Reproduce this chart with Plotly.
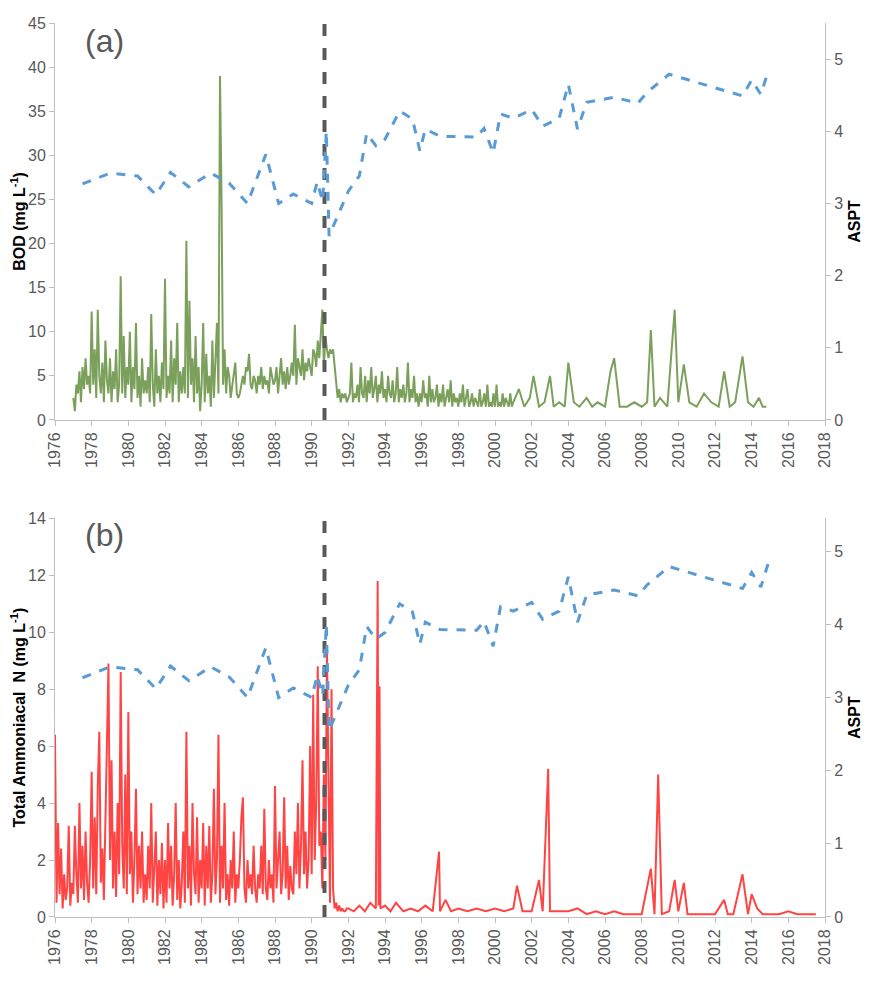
import numpy as np
import plotly.graph_objects as go

# ASPT (biotic index), same series in both panels
aspt_year = [1977.5, 1979.0, 1980.5, 1981.5, 1982.3, 1983.3, 1984.5, 1985.5, 1986.5, 1987.5,
             1988.2, 1989.0, 1990.0, 1990.3, 1990.6, 1990.8, 1990.95, 1992.0, 1992.6, 1993.0,
             1993.5, 1994.0, 1994.8, 1995.5, 1995.9, 1996.2, 1997.0, 1998.0, 1999.0, 1999.4,
             1999.9, 2000.3, 2001.0, 2002.0, 2002.6, 2003.5, 2004.0, 2004.5, 2005.0, 2006.5,
             2007.8, 2008.3, 2009.5, 2013.5, 2014.0, 2014.5, 2014.9]
aspt_val = [3.27, 3.42, 3.38, 3.12, 3.43, 3.23, 3.42, 3.28, 3.00, 3.68,
            3.00, 3.13, 3.00, 3.30, 3.03, 4.00, 2.55, 3.17, 3.38, 3.97,
            3.80, 3.89, 4.28, 4.17, 3.73, 4.03, 3.93, 3.92, 3.92, 4.04,
            3.70, 4.24, 4.18, 4.30, 4.07, 4.18, 4.65, 4.03, 4.40, 4.47,
            4.39, 4.54, 4.79, 4.49, 4.71, 4.51, 4.83]

# BOD, monthly 1977-2000
bod_monthly = [
    2.5, 1.0, 4.0, 3.0, 5.5, 2.0, 6.0, 3.5, 7.0, 4.0, 5.0, 3.0,
    12.3, 4.0, 8.0, 2.5, 12.5, 5.0, 3.0, 6.5, 2.0, 9.0, 4.5, 3.0,
    7.0, 2.0, 5.5, 3.5, 8.0, 2.0, 4.0, 16.3, 3.0, 9.5, 2.5, 6.0,
    4.0, 10.0, 2.0, 6.0, 3.5, 11.0, 2.5, 5.0, 1.5, 7.0, 3.0, 4.5,
    3.0, 6.0, 2.0, 12.0, 4.0, 1.5, 8.0, 3.0, 5.0, 2.0, 6.5, 3.5,
    16.0, 2.5, 5.0, 3.0, 9.0, 2.0, 7.0, 4.0, 11.0, 2.0, 5.5, 3.0,
    6.0, 3.0, 20.3, 2.5, 13.5, 4.0, 7.0, 2.0, 9.5, 3.0, 6.0, 1.0,
    4.0, 11.0, 2.0, 7.5, 3.0, 5.0, 1.5, 9.0, 2.5, 6.0, 11.0, 3.0,
    39.0, 25.0, 4.0, 8.0, 3.0, 6.0, 5.0, 2.5, 4.0, 5.5, 6.5, 3.0,
    2.5, 3.0, 4.0, 5.0, 4.0, 6.0, 5.5, 7.5, 4.0, 3.5, 5.0, 4.5,
    3.0, 5.0, 4.0, 6.0, 3.5, 5.0, 4.0, 4.5, 3.0, 6.0, 5.0, 4.0,
    4.5, 6.0, 3.0, 5.0, 7.0, 4.0, 5.5, 3.5, 6.0, 4.0, 5.0, 6.5,
    5.0, 10.8, 4.0, 7.0, 6.0, 5.0, 8.0, 4.5, 6.5, 5.5, 7.0, 6.0,
    5.0, 8.0, 7.5, 6.0, 9.0, 7.0, 10.0, 12.5, 6.0, 9.5, 8.0, 7.0,
    8.0, 7.5, 8.0, 6.0, 4.0, 2.5, 3.5, 2.0, 3.0, 2.5, 3.0, 2.0,
    2.5, 3.0, 6.5, 2.0, 3.0, 2.5, 4.0, 2.0, 6.0, 3.0, 2.5, 5.0,
    2.0, 4.5, 3.0, 6.0, 2.5, 3.5, 5.0, 2.0, 4.0, 3.0, 5.5, 2.5,
    3.5, 2.0, 5.0, 3.0, 2.5, 4.5, 2.0, 3.0, 6.0, 2.0, 3.5, 2.5,
    4.0, 2.0, 3.0, 6.5, 2.0, 3.5, 2.5, 5.0, 2.0, 3.0, 1.5, 3.0,
    2.0, 4.5, 2.5, 3.0, 1.5, 5.0, 2.0, 3.5, 2.0, 2.5, 4.0, 1.5,
    3.0, 2.0, 4.0, 1.5, 2.5, 3.5, 2.0, 4.5, 1.5, 3.0, 2.0, 2.5,
    1.5, 3.0, 2.0, 4.0, 1.5, 2.5, 3.5, 1.5, 2.0, 3.0, 1.5, 2.5,
    2.0, 1.5, 3.5, 1.5, 2.0, 3.0, 1.5, 4.0, 1.5, 2.0, 1.5, 3.0,
    1.5, 4.0, 1.5, 2.0, 1.5, 3.0, 1.5, 2.5, 2.0, 1.5, 3.0, 1.5,
]
bod_late_year = [2001.0, 2001.3, 2001.6, 2001.9, 2002.1, 2002.4, 2002.7, 2003.0, 2003.2, 2003.5,
                 2003.8, 2004.0, 2004.3, 2004.6, 2005.0, 2005.3, 2005.6, 2006.0, 2006.3, 2006.5,
                 2006.8, 2007.2, 2007.6, 2008.0, 2008.3, 2008.5, 2008.7, 2009.0, 2009.4, 2009.8,
                 2010.0, 2010.3, 2010.6, 2011.0, 2011.4, 2011.8, 2012.2, 2012.5, 2012.8, 2013.1,
                 2013.5, 2013.8, 2014.1, 2014.4, 2014.6, 2014.8]
bod_late = [2.0, 3.5, 1.5, 2.5, 5.0, 1.5, 2.0, 5.0, 1.5, 2.0,
            1.5, 6.5, 2.0, 1.5, 2.5, 1.5, 2.0, 1.5, 5.5, 7.0,
            1.5, 1.5, 2.0, 1.5, 2.0, 10.2, 1.5, 2.5, 1.5, 12.5,
            2.0, 6.3, 2.0, 1.5, 3.0, 2.0, 1.5, 5.5, 1.5, 2.0,
            7.2, 2.0, 1.5, 2.5, 1.5, 1.5]

# Total ammoniacal N, monthly 1976-1991
nh_monthly = [
    6.4, 0.5, 3.3, 0.8, 2.4, 0.3, 1.5, 0.6, 1.0, 3.2, 0.4, 1.2,
    0.8, 3.2, 1.5, 0.5, 4.0, 1.0, 2.5, 0.6, 3.0, 1.2, 0.5, 2.0,
    5.1, 1.0, 3.5, 0.8, 4.6, 6.5, 1.2, 2.4, 0.6, 3.8, 7.0, 8.9,
    2.0, 5.5, 1.0, 3.0, 0.7, 4.0, 1.5, 8.6, 2.5, 1.0, 5.0, 0.8,
    7.2, 1.5, 3.0, 0.5, 2.0, 4.5, 0.8, 2.5, 1.0, 3.0, 0.5, 1.5,
    0.6, 2.5, 1.0, 4.0, 0.5, 1.8, 3.0, 0.4, 2.0, 0.8, 2.6, 0.3,
    2.0, 0.5, 3.3, 1.0, 2.5, 0.4, 1.5, 4.0, 0.6, 2.0, 0.3, 1.2,
    3.0, 0.5, 6.5, 1.0, 2.5, 0.4, 4.0, 1.5, 0.8, 3.5, 0.5, 2.0,
    1.0, 3.3, 0.4, 2.5, 1.0, 3.2, 0.5, 1.5, 4.5, 0.8, 2.0, 6.4,
    0.5, 2.5, 1.0, 4.0, 0.6, 1.5, 0.4, 2.0, 1.0, 3.0, 0.5, 1.5,
    1.0, 2.0, 3.5, 4.2, 1.0, 0.5, 2.0, 1.0, 1.5, 0.8, 2.5, 1.0,
    0.5, 1.5, 1.0, 2.5, 0.8, 3.8, 1.0, 0.6, 2.0, 1.0, 1.5, 0.5,
    4.6, 1.0, 2.0, 3.0, 0.8, 1.5, 4.2, 1.0, 2.5, 0.6, 1.8, 1.0,
    0.8, 3.0, 1.5, 4.0, 1.0, 2.5, 5.5, 1.5, 3.0, 1.0, 2.0, 6.0,
    1.5, 7.8, 2.0, 4.0, 8.8, 2.5, 3.0, 1.0, 5.0, 2.0, 9.4, 4.0,
    0.5, 8.0, 1.0, 0.3, 0.5, 0.2, 0.4, 0.2, 0.3, 0.2, 0.2, 0.3,
]
nh_late_year = [1992.0, 1992.3, 1992.6, 1992.9, 1993.2, 1993.5, 1993.6, 1993.65, 1993.7, 1993.75,
                1994.0, 1994.3, 1994.6, 1995.0, 1995.4, 1995.8, 1996.2, 1996.6, 1996.95, 1997.0,
                1997.3, 1997.6, 1998.0, 1998.5, 1999.0, 1999.5, 2000.0, 2000.5, 2001.0, 2001.2,
                2001.5, 2002.0, 2002.4, 2002.6, 2002.9, 2003.0, 2003.5, 2004.0, 2004.5, 2005.0,
                2005.5, 2006.0, 2006.5, 2007.0, 2007.5, 2008.0, 2008.5, 2008.7, 2008.9, 2009.1,
                2009.5, 2009.8, 2010.0, 2010.3, 2010.5, 2011.0, 2011.5, 2012.0, 2012.5, 2012.7,
                2013.0, 2013.5, 2013.8, 2014.0, 2014.3, 2014.6, 2015.0, 2015.5, 2016.0, 2016.5,
                2017.0, 2017.5]
nh_late = [0.3, 0.2, 0.4, 0.2, 0.5, 0.3, 11.8, 0.4, 8.1, 0.3,
           0.4, 0.2, 0.5, 0.2, 0.3, 0.2, 0.4, 0.2, 2.3, 0.2,
           0.6, 0.2, 0.3, 0.2, 0.3, 0.2, 0.3, 0.2, 0.3, 1.1,
           0.2, 0.2, 1.3, 0.2, 5.2, 0.2, 0.2, 0.2, 0.3, 0.1,
           0.2, 0.1, 0.2, 0.1, 0.1, 0.1, 1.7, 0.1, 5.0, 0.1,
           0.2, 1.3, 0.2, 1.2, 0.1, 0.1, 0.1, 0.1, 0.6, 0.1,
           0.1, 1.5, 0.1, 0.8, 0.3, 0.1, 0.1, 0.1, 0.2, 0.1,
           0.1, 0.1]

change_year = 1990.7
years = list(range(1976, 2019, 2))

bod_x = [1977.0 + i / 12 for i in range(len(bod_monthly))] + bod_late_year
bod_y = bod_monthly + bod_late
nh_x = [1976.0 + i / 12 for i in range(len(nh_monthly))] + nh_late_year
nh_y = nh_monthly + nh_late

GREEN = "#7ba05b"
RED = "#ff4444"
BLUE = "#5b9bd5"
GREY = "#595959"
FONT = "Liberation Sans"

fig = go.Figure()
fig.add_trace(go.Scatter(x=bod_x, y=bod_y, mode="lines", line=dict(color=GREEN, width=2),
                         xaxis="x", yaxis="y"))
fig.add_trace(go.Scatter(x=aspt_year, y=aspt_val, mode="lines",
                         line=dict(color=BLUE, width=3, dash="dash"), xaxis="x", yaxis="y2"))
fig.add_trace(go.Scatter(x=[change_year, change_year], y=[0, 45], mode="lines",
                         line=dict(color=GREY, width=4, dash="dash"), xaxis="x", yaxis="y"))

fig.add_trace(go.Scatter(x=nh_x, y=nh_y, mode="lines", line=dict(color=RED, width=2),
                         xaxis="x2", yaxis="y3"))
fig.add_trace(go.Scatter(x=aspt_year, y=aspt_val, mode="lines",
                         line=dict(color=BLUE, width=3, dash="dash"), xaxis="x2", yaxis="y4"))
fig.add_trace(go.Scatter(x=[change_year, change_year], y=[0, 14], mode="lines",
                         line=dict(color=GREY, width=4, dash="dash"), xaxis="x2", yaxis="y3"))

tick_font = dict(family=FONT, size=16, color=GREY)
xcommon = dict(range=[1976, 2018], tickvals=years, tickangle=-90, ticks="outside",
               ticklen=5, tickcolor="#bfbfbf", showline=True, linecolor="#bfbfbf",
               showgrid=False, zeroline=False, tickfont=tick_font, automargin=False)
ycommon = dict(ticks="outside", ticklen=5, tickcolor="#bfbfbf", showline=True,
               linecolor="#bfbfbf", showgrid=False, zeroline=False, tickfont=tick_font,
               automargin=False)
title_font = dict(family=FONT, size=16, color="black")

fig.update_layout(
    width=880, height=981,
    margin=dict(l=47, r=63, t=15, b=72),
    plot_bgcolor="white", paper_bgcolor="white",
    showlegend=False,
    xaxis=dict(xcommon, domain=[0, 1], anchor="y"),
    yaxis=dict(ycommon, domain=[0.556, 1], range=[0, 45], dtick=5,
               title=dict(text="<b>BOD (mg L<sup>-1</sup>)</b>", font=title_font, standoff=4)),
    yaxis2=dict(ycommon, domain=[0.556, 1], range=[0, 5.5], dtick=1, overlaying="y",
                side="right", anchor="x",
                title=dict(text="<b>ASPT</b>", font=title_font, standoff=6)),
    xaxis2=dict(xcommon, domain=[0, 1], anchor="y3"),
    yaxis3=dict(ycommon, domain=[0, 0.446], range=[0, 14], dtick=2,
                title=dict(text="<b>Total Ammoniacal  N (mg L<sup>-1</sup>)</b>",
                           font=title_font, standoff=4)),
    yaxis4=dict(ycommon, domain=[0, 0.446], range=[0, 5.45], dtick=1, overlaying="y3",
                side="right", anchor="x2",
                title=dict(text="<b>ASPT</b>", font=title_font, standoff=6)),
    annotations=[
        dict(text="(a)", x=1977.5, y=43, xref="x", yref="y", showarrow=False,
             xanchor="left", font=dict(family=FONT, size=32, color=GREY)),
        dict(text="(b)", x=1977.5, y=13.4, xref="x2", yref="y3", showarrow=False,
             xanchor="left", font=dict(family=FONT, size=32, color=GREY)),
    ],
)

fig.write_html("out.html")
